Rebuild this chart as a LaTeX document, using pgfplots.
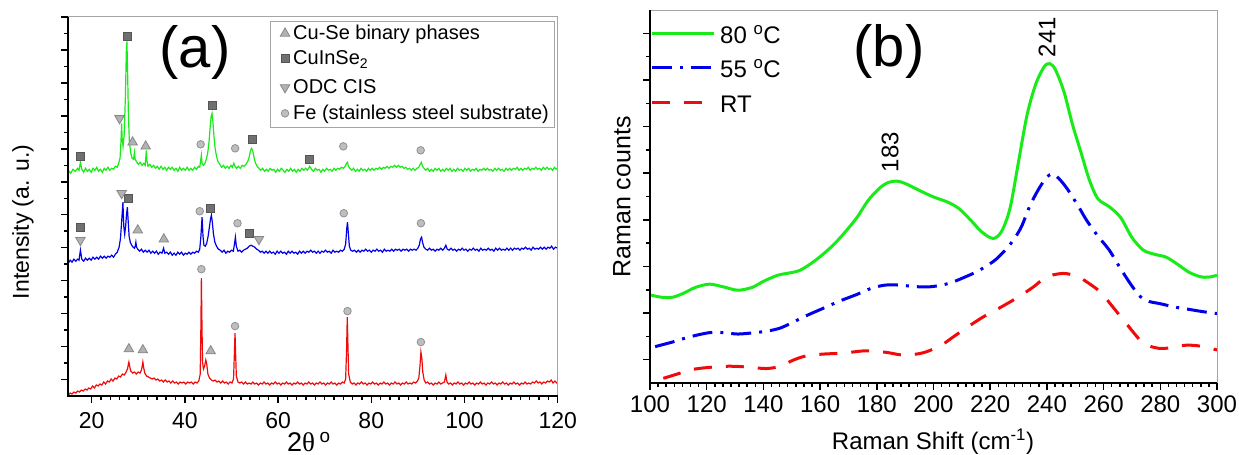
\documentclass[border=0pt]{standalone}
\usepackage{fontspec}
\setmainfont{Liberation Sans}
\newfontfamily\greekserif{Liberation Serif}
\usepackage{pgfplots}
\pgfplotsset{compat=1.18}
\definecolor{cgreen}{RGB}{25,235,25}
\definecolor{cblue}{RGB}{0,0,235}
\definecolor{cred}{RGB}{240,10,10}
\definecolor{framegray}{RGB}{165,165,165}
\definecolor{trifill}{RGB}{178,178,178}
\definecolor{triedge}{RGB}{135,135,135}
\definecolor{sqfill}{RGB}{112,112,112}
\definecolor{sqedge}{RGB}{85,85,85}
\definecolor{cifill}{RGB}{190,190,190}
\definecolor{ciedge}{RGB}{145,145,145}
\pgfplotsset{
  myframe/.style={
    axis line style={draw=none},
    tick align=outside,
    xtick pos=left, ytick pos=left,
    major tick length=7bp, minor tick length=4bp,
    every tick/.append style={black, line width=1.5bp},
    /pgf/number format/assume math mode=true,
    after end axis/.code={
      \draw[line width=1bp, framegray] (rel axis cs:0,1) -- (rel axis cs:1,1) -- (rel axis cs:1,0);
      \draw[line width=2bp, black] (rel axis cs:0,1) -- (rel axis cs:0,0) -- (rel axis cs:1,0);
    },
  },
  tri/.style={only marks, mark=triangle*, mark size=5.5bp, mark options={fill=trifill, draw=triedge, line width=0.8bp}},
  sq/.style={only marks, mark=square*, mark size=4bp, mark options={fill=sqfill, draw=sqedge, line width=0.8bp}},
  dtri/.style={only marks, mark=triangle*, mark size=5.5bp, mark options={rotate=180, fill=trifill, draw=triedge, line width=0.8bp}},
  circ/.style={only marks, mark=*, mark size=3.8bp, mark options={fill=cifill, draw=ciedge, line width=0.8bp}},
}
\begin{document}
\begin{tikzpicture}
\useasboundingbox (0,0) rectangle (1239bp,455bp);
% ---------------- panel (a)
\begin{axis}[myframe,
  at={(68.3bp,59bp)}, anchor=south west,
  scale only axis, width=489.4bp, height=379bp,
  xmin=15, xmax=120, ymin=0, ymax=379.5,
  xtick={20,40,60,80,100,120}, minor x tick num=9,
  ytick={16.5,49.5,82.5,115.5,148.5,181.5,214.5,247.5,280.5,313.5,346.5,379.5},
  yticklabels={}, minor y tick num=1,
  tick label style={font=\fontsize{23bp}{27bp}\selectfont},
  x tick label style={yshift=-6bp},
]
\addplot[cgreen, line width=1.2bp] coordinates {
(15,226)(15.5,223)(16,227)(16.5,225)(17,228)(17.3,226)(17.6,234)(17.9,227)(18.3,224)(18.7,228)(19.1,225)(19.5,227)(19.9,224)(20.3,228)(20.7,226)(21.1,229)(21.5,225)(21.9,227)(22.3,224)(22.7,228)(23.1,226)(23.5,229)(23.9,226)(24.3,228)(24.7,227)(25.1,230)(25.5,229)(25.8,233)(26.1,238)(26.3,255)(26.44,273)(26.55,258)(26.75,250)(27.0,262)(27.25,300)(27.45,345)(27.58,355)(27.72,325)(27.9,280)(28.1,255)(28.4,243)(28.7,238)(29.0,237)(29.2,244)(29.35,237)(29.6,235)(30.0,232)(30.4,234)(30.8,231)(31.2,233)(31.5,231)(31.65,240)(31.74,246)(31.85,236)(32.1,230)(32.5,232)(32.9,229)(33.3,231)(33.7,228)(34.1,230)(34.5,227)(34.9,230)(35.3,227)(35.7,229)(36.1,226)(36.5,229)(36.9,227)(37.3,229)(37.7,226)(38.1,228)(38.5,225)(38.9,229)(39.3,226)(39.7,228)(40.1,226)(40.5,229)(40.9,226)(41.3,228)(41.7,226)(42.1,229)(42.5,227)(42.9,230)(43.2,229)(43.4,236)(43.55,241)(43.7,233)(44.0,231)(44.3,233)(44.6,237)(44.9,243)(45.2,255)(45.45,270)(45.65,280)(45.83,283)(46.0,276)(46.25,260)(46.5,248)(46.8,240)(47.1,235)(47.5,232)(47.9,229)(48.3,231)(48.7,228)(49.1,230)(49.5,228)(49.9,231)(50.2,229)(50.5,233)(50.8,230)(51.1,228)(51.5,230)(51.9,228)(52.3,231)(52.7,230)(53.1,232)(53.5,235)(53.8,239)(54.05,245)(54.3,248)(54.55,246)(54.8,240)(55.1,234)(55.5,230)(55.9,228)(56.3,226)(56.7,228)(57.1,225)(57.5,227)(57.9,225)(58.3,228)(58.7,226)(59.1,227)(59.5,224)(59.9,227)(60.3,225)(60.7,228)(61.1,226)(61.5,224)(61.9,227)(62.3,225)(62.7,228)(63.1,225)(63.5,227)(63.9,224)(64.3,227)(64.7,225)(65.1,228)(65.5,226)(65.9,228)(66.3,226)(66.8,230)(67.2,227)(67.6,225)(68.0,228)(68.4,226)(68.8,227)(69.2,224)(69.6,227)(70.0,225)(70.4,228)(70.8,226)(71.2,227)(71.6,225)(72.0,228)(72.4,226)(72.8,228)(73.2,227)(73.6,229)(74.0,228)(74.4,230)(74.7,233)(74.9,234)(75.1,230)(75.4,228)(75.8,226)(76.2,228)(76.6,225)(77.0,227)(77.4,225)(77.8,228)(78.2,226)(78.6,227)(79.0,225)(79.4,228)(79.8,226)(80.2,228)(80.6,226)(81.0,228)(81.4,227)(81.8,229)(82.2,227)(82.6,229)(83.0,228)(83.4,230)(83.8,228)(84.2,230)(84.6,229)(85.0,231)(85.4,229)(85.8,231)(86.2,229)(86.6,230)(87.0,228)(87.4,229)(87.8,227)(88.2,228)(88.6,226)(89.0,228)(89.4,226)(89.8,228)(90.2,229)(90.5,232)(90.75,234)(91.0,230)(91.3,228)(91.7,226)(92.1,228)(92.5,225)(92.9,227)(93.3,225)(93.7,228)(94.1,226)(94.5,228)(94.9,225)(95.3,227)(95.7,225)(96.1,228)(96.5,226)(96.9,228)(97.3,225)(97.7,227)(98.1,225)(98.5,228)(98.9,226)(99.3,227)(99.7,225)(100.1,228)(100.5,226)(100.9,228)(101.3,225)(101.7,227)(102.1,226)(102.5,228)(102.9,225)(103.3,227)(103.7,226)(104.1,228)(104.5,226)(104.9,228)(105.3,226)(105.7,227)(106.1,225)(106.5,228)(106.9,226)(107.3,228)(107.7,226)(108.1,227)(108.5,225)(108.9,228)(109.3,226)(109.7,228)(110.1,226)(110.5,228)(110.9,227)(111.3,229)(111.7,226)(112.1,228)(112.5,226)(112.9,228)(113.3,227)(113.7,229)(114.1,226)(114.5,228)(114.9,227)(115.3,229)(115.7,227)(116.1,228)(116.5,226)(116.9,229)(117.3,227)(117.7,229)(118.1,227)(118.5,228)(118.9,226)(119.3,229)(119.7,227)(120,228)
};
\addplot[cblue, line width=1.2bp] coordinates {
(15,133)(15.4,136)(15.8,134)(16.2,137)(16.6,135)(17.0,137)(17.3,136)(17.6,146)(17.9,137)(18.3,135)(18.7,138)(19.1,136)(19.5,138)(19.9,136)(20.3,139)(20.7,137)(21.1,139)(21.5,137)(21.9,140)(22.3,138)(22.7,140)(23.1,138)(23.5,140)(23.9,139)(24.3,141)(24.7,139)(25.1,142)(25.5,144)(25.9,149)(26.2,158)(26.45,175)(26.72,194)(26.9,170)(27.1,162)(27.3,170)(27.5,182)(27.67,189)(27.85,175)(28.05,160)(28.3,154)(28.6,151)(28.9,149)(29.2,148)(29.4,151)(29.5,154)(29.65,149)(29.9,147)(30.3,145)(30.7,147)(31.1,144)(31.5,146)(31.9,144)(32.3,146)(32.7,143)(33.1,145)(33.5,143)(33.9,145)(34.3,142)(34.7,144)(35.1,143)(35.45,148)(35.7,143)(36.1,144)(36.5,142)(36.9,144)(37.3,141)(37.7,143)(38.1,141)(38.5,144)(38.9,142)(39.3,144)(39.7,141)(40.1,143)(40.5,142)(40.9,144)(41.3,142)(41.7,144)(42.1,143)(42.5,145)(42.9,144)(43.2,147)(43.45,160)(43.7,179)(43.9,160)(44.1,151)(44.4,150)(44.7,153)(45.0,160)(45.3,170)(45.5,177)(45.7,181)(45.9,174)(46.15,162)(46.45,154)(46.8,150)(47.2,147)(47.6,146)(48.0,144)(48.4,146)(48.8,143)(49.2,145)(49.6,144)(50.0,146)(50.4,145)(50.65,152)(50.85,159)(51.05,150)(51.4,145)(51.8,146)(52.2,144)(52.6,146)(53.0,147)(53.4,148)(53.8,150)(54.2,151)(54.6,150)(55.0,149)(55.4,147)(55.8,146)(56.2,144)(56.6,145)(57.0,143)(57.4,145)(57.8,143)(58.2,145)(58.6,143)(59.0,144)(59.4,142)(59.8,145)(60.2,143)(60.6,145)(61.0,143)(61.4,144)(61.8,142)(62.2,145)(62.6,143)(63.0,145)(63.4,143)(63.8,144)(64.2,142)(64.6,145)(65.0,143)(65.4,145)(65.8,143)(66.2,145)(66.6,144)(67.0,146)(67.4,144)(67.8,145)(68.2,143)(68.6,145)(69.0,143)(69.4,145)(69.8,144)(70.2,146)(70.6,144)(71.0,145)(71.4,143)(71.8,146)(72.2,144)(72.6,145)(73.0,144)(73.4,146)(73.8,145)(74.2,147)(74.5,152)(74.75,168)(74.9,174)(75.05,165)(75.3,150)(75.6,146)(76.0,145)(76.4,146)(76.8,144)(77.2,146)(77.6,144)(78.0,146)(78.4,145)(78.8,147)(79.2,145)(79.6,146)(80.0,144)(80.4,146)(80.8,145)(81.2,147)(81.6,145)(82.0,146)(82.4,144)(82.8,147)(83.2,145)(83.6,146)(84.0,145)(84.4,147)(84.8,145)(85.2,147)(85.6,146)(86.0,147)(86.4,145)(86.8,147)(87.2,146)(87.6,147)(88.0,145)(88.4,147)(88.8,146)(89.2,147)(89.6,146)(90.0,148)(90.3,151)(90.55,157)(90.8,159)(91.0,154)(91.3,149)(91.7,147)(92.1,146)(92.5,148)(92.9,146)(93.3,147)(93.7,145)(94.1,147)(94.5,146)(94.9,148)(95.3,146)(95.7,148)(96.0,151)(96.3,147)(96.7,146)(97.1,148)(97.5,146)(97.9,147)(98.3,145)(98.7,147)(99.1,146)(99.5,148)(99.9,146)(100.3,147)(100.7,145)(101.1,147)(101.5,146)(101.9,148)(102.3,146)(102.7,147)(103.1,145)(103.5,148)(103.9,146)(104.3,147)(104.7,146)(105.1,148)(105.5,146)(105.9,147)(106.3,145)(106.7,148)(107.1,146)(107.5,148)(107.9,146)(108.3,147)(108.7,146)(109.1,148)(109.5,146)(109.9,148)(110.3,146)(110.7,148)(111.1,147)(111.5,148)(111.9,146)(112.3,148)(112.7,147)(113.1,149)(113.5,147)(113.9,148)(114.3,146)(114.7,149)(115.1,147)(115.5,148)(115.9,147)(116.3,149)(116.7,147)(117.1,149)(117.5,147)(117.9,149)(118.3,148)(118.7,150)(119.1,147)(119.5,149)(120,148)
};
\addplot[cred, line width=1.2bp] coordinates {
(15,1)(15.4,3)(15.8,2)(16.2,4)(16.6,3)(17.0,5)(17.4,4)(17.8,6)(18.2,5)(18.6,7)(19.0,6)(19.4,8)(19.8,7)(20.2,10)(20.6,8)(21.0,11)(21.4,10)(21.8,12)(22.2,11)(22.6,14)(23.0,12)(23.4,15)(23.8,14)(24.2,17)(24.6,15)(25.0,18)(25.4,17)(25.8,20)(26.2,19)(26.6,22)(27.0,21)(27.4,24)(27.7,27)(27.9,32)(28.0,34)(28.15,30)(28.4,25)(28.8,23)(29.2,24)(29.6,22)(30.0,24)(30.4,23)(30.7,26)(30.9,31)(31.0,34)(31.15,29)(31.4,23)(31.8,20)(32.2,19)(32.6,18)(33.0,17)(33.4,18)(33.8,16)(34.2,17)(34.6,15)(35.0,16)(35.4,14)(35.8,16)(36.2,14)(36.6,15)(37.0,13)(37.4,15)(37.8,13)(38.2,14)(38.6,12)(39.0,14)(39.4,13)(39.8,14)(40.2,12)(40.6,14)(41.0,13)(41.4,14)(41.8,12)(42.2,14)(42.6,13)(43.0,15)(43.3,22)(43.45,70)(43.55,118)(43.68,70)(43.8,34)(44.0,27)(44.25,30)(44.5,36)(44.7,32)(44.95,22)(45.3,18)(45.7,16)(46.1,15)(46.5,16)(46.9,14)(47.3,15)(47.7,13)(48.1,15)(48.5,13)(48.9,14)(49.3,12)(49.7,14)(50.1,13)(50.45,17)(50.65,45)(50.77,63)(50.9,42)(51.05,20)(51.4,14)(51.8,13)(52.2,14)(52.6,12)(53.0,14)(53.4,12)(53.8,13)(54.2,12)(54.6,14)(55.0,12)(55.4,13)(55.8,11)(56.2,13)(56.6,12)(57.0,14)(57.4,12)(57.8,13)(58.2,11)(58.6,13)(59.0,12)(59.4,14)(59.8,12)(60.2,13)(60.6,11)(61.0,13)(61.4,12)(61.8,14)(62.2,12)(62.6,13)(63.0,11)(63.4,13)(63.8,12)(64.2,14)(64.6,12)(65.0,13)(65.4,11)(65.8,13)(66.2,12)(66.6,14)(67.0,12)(67.4,13)(67.8,11)(68.2,13)(68.6,12)(69.0,14)(69.4,12)(69.8,13)(70.2,11)(70.6,13)(71.0,12)(71.4,14)(71.8,12)(72.2,13)(72.6,11)(73.0,13)(73.4,12)(73.8,14)(74.2,13)(74.5,17)(74.7,45)(74.85,79)(75.0,50)(75.15,22)(75.5,14)(75.9,12)(76.3,13)(76.7,11)(77.1,13)(77.5,12)(77.9,14)(78.3,12)(78.7,13)(79.1,11)(79.5,13)(79.9,12)(80.3,14)(80.7,12)(81.1,13)(81.5,11)(81.9,13)(82.3,12)(82.7,14)(83.1,12)(83.5,13)(83.9,11)(84.3,13)(84.7,12)(85.1,14)(85.5,12)(85.9,13)(86.3,11)(86.7,13)(87.1,12)(87.5,14)(87.9,12)(88.3,13)(88.7,12)(89.1,14)(89.5,13)(89.9,15)(90.2,18)(90.45,30)(90.65,44)(90.85,38)(91.05,24)(91.35,16)(91.7,13)(92.1,14)(92.5,12)(92.9,13)(93.3,11)(93.7,13)(94.1,12)(94.5,14)(94.9,12)(95.3,13)(95.7,14)(96.0,21)(96.25,14)(96.6,12)(97.0,13)(97.4,11)(97.8,13)(98.2,12)(98.6,14)(99.0,12)(99.4,13)(99.8,11)(100.2,13)(100.6,12)(101.0,14)(101.4,12)(101.8,13)(102.2,11)(102.6,13)(103.0,12)(103.4,14)(103.8,12)(104.2,13)(104.6,11)(105.0,13)(105.4,12)(105.8,14)(106.2,12)(106.6,13)(107.0,11)(107.4,13)(107.8,12)(108.2,14)(108.6,12)(109.0,13)(109.4,11)(109.8,13)(110.2,12)(110.6,14)(111.0,12)(111.4,13)(111.8,11)(112.2,13)(112.6,12)(113.0,14)(113.4,12)(113.8,13)(114.2,12)(114.6,14)(115.0,13)(115.4,15)(115.8,13)(116.2,14)(116.6,12)(117.0,14)(117.4,13)(117.8,15)(118.2,14)(118.6,16)(119.0,13)(119.4,15)(119.8,13)(120,14)
};
% phase markers
\addplot[tri] coordinates {(28.8,254)(31.6,250)(29.9,166)(35.5,157)(28.0,47)(31.0,46)(45.55,45)};
\addplot[sq] coordinates {(17.6,240)(27.58,360)(45.83,291)(54.5,257)(66.8,237)(17.6,169)(27.88,198)(45.55,188)(53.8,163)};
\addplot[dtri] coordinates {(26.0,278)(17.6,156)(26.44,203)(55.9,157)};
\addplot[circ] coordinates {(43.4,252)(50.8,248)(74.0,250)(90.6,246)(43.2,185)(51.3,173)(74.1,183)(90.65,173)(43.55,127)(50.77,70)(74.9,85)(90.65,54)};
% legend key symbols
\addplot[tri] coordinates {(61.5,363)};
\addplot[sq] coordinates {(61.5,338)};
\addplot[dtri] coordinates {(61.5,309)};
\addplot[circ] coordinates {(61.5,283)};
\end{axis}
% legend box and texts of (a)
\draw[framegray, line width=1bp] (270bp,327bp) rectangle (554bp,433bp);
\begin{scope}[every node/.style={anchor=base west, inner sep=0pt, font=\fontsize{20bp}{24bp}\selectfont}]
\node at (293bp,415bp) {Cu-Se binary phases};
\node at (293bp,390bp) {CuInSe\textsubscript{2}};
\node at (293bp,361bp) {ODC CIS};
\node at (293bp,335bp) {Fe (stainless steel substrate)};
\end{scope}
% ---------------- panel (b)
\begin{axis}[myframe,
  at={(650bp,72bp)}, anchor=south west,
  scale only axis, width=567bp, height=373bp,
  xmin=100, xmax=300, ymin=0, ymax=8,
  xtick={100,120,140,160,180,200,220,240,260,280,300}, minor x tick num=6,
  ytick={0.5,1.5,2.5,3.5,4.5,5.5,6.5,7.5}, yticklabels={}, minor y tick num=1,
  tick label style={font=\fontsize{24bp}{28bp}\selectfont},
  x tick label style={yshift=-2bp},
  legend cell align=left,
  legend image code/.code={\draw[#1] (0bp,0bp) -- (62bp,0bp);},
  legend style={at={(0.0,0.9846)}, anchor=north west, draw=none, fill=none,
    font=\fontsize{24bp}{28bp}\selectfont, inner sep=0bp, row sep=0bp,
    nodes={inner sep=2bp, text height=25.3bp, text depth=5.2bp},
    /tikz/every odd column/.append style={column sep=3bp}},
]
\addplot[cgreen, line width=3bp, smooth] coordinates {
(100,1.89)(104,1.84)(108,1.84)(112,1.93)(116,2.05)(121,2.12)(126,2.06)(131,1.99)(136,2.05)(140,2.18)(145,2.31)(150,2.37)(153,2.42)(157,2.57)(161,2.76)(165,2.98)(169,3.25)(173,3.55)(177,3.92)(181,4.18)(184,4.30)(187,4.33)(190,4.28)(195,4.13)(200,3.99)(205,3.88)(209,3.74)(213,3.50)(217,3.24)(221,3.10)(224,3.25)(227,3.75)(230,4.75)(233,5.75)(236,6.40)(239,6.78)(241,6.85)(243,6.72)(246,6.25)(249,5.55)(252,4.95)(255,4.35)(258,3.95)(262,3.78)(266,3.55)(270,3.12)(274,2.85)(278,2.76)(282,2.70)(286,2.55)(290,2.38)(294,2.28)(297,2.27)(300,2.31)
};
\addlegendentry{80 \textsuperscript{o}C}
\addplot[cblue, line width=3bp, smooth, dash pattern=on 20bp off 8bp on 3bp off 8bp] coordinates {
(101.8,0.78)(108,0.88)(114,0.99)(121,1.08)(126,1.08)(131,1.05)(137,1.08)(142,1.12)(146,1.18)(150,1.29)(155,1.44)(161,1.60)(167,1.76)(173,1.90)(178,2.03)(183,2.10)(188,2.10)(193,2.07)(198,2.06)(203,2.10)(207,2.17)(211,2.27)(215,2.38)(219,2.52)(222,2.65)(225,2.83)(228,3.05)(231,3.35)(234,3.80)(237,4.15)(240,4.42)(242,4.48)(244,4.40)(247,4.18)(251,3.80)(254,3.49)(258,3.15)(262,2.85)(266,2.45)(270,2.08)(273,1.85)(276,1.75)(280,1.70)(285,1.63)(290,1.58)(295,1.53)(300,1.49)
};
\addlegendentry{55 \textsuperscript{o}C}
\addplot[cred, line width=3bp, smooth, dash pattern=on 18bp off 14bp] coordinates {
(104.7,0.10)(110,0.20)(114,0.28)(120,0.33)(128,0.36)(135,0.34)(141,0.31)(146,0.36)(150.5,0.49)(155,0.58)(161,0.62)(168,0.64)(176,0.69)(183,0.66)(189,0.60)(194,0.62)(198,0.68)(203,0.82)(207,0.99)(212,1.2)(217.6,1.42)(223,1.6)(229,1.81)(235,2.05)(240,2.28)(245.8,2.35)(250,2.3)(253,2.21)(258.7,1.96)(263,1.65)(267,1.35)(271,1.05)(274,0.85)(278,0.76)(281,0.74)(285,0.77)(289,0.81)(293,0.80)(297,0.75)(300,0.71)
};
\addlegendentry{RT}
\end{axis}
% ---------------- texts
\node[font=\fontsize{58bp}{64bp}\selectfont] at (195bp,403bp) {(a)};
\node[font=\fontsize{58bp}{64bp}\selectfont] at (889bp,404bp) {(b)};
\node[rotate=90, font=\fontsize{23bp}{27bp}\selectfont] at (23bp,233bp) {Intensity (a. u.)};
\node[anchor=base west, font=\fontsize{27bp}{31bp}\selectfont, inner sep=0pt] at (287bp,4bp) {2{\greekserif θ}\,\textsuperscript{o}};
\node[rotate=90, font=\fontsize{25bp}{29bp}\selectfont] at (622bp,258bp) {Raman counts};
\node[anchor=base, font=\fontsize{24bp}{28bp}\selectfont, inner sep=0pt] at (933bp,6bp) {Raman Shift (cm\textsuperscript{-1})};
\node[rotate=90, font=\fontsize{24bp}{28bp}\selectfont] at (890bp,303bp) {183};
\node[rotate=90, font=\fontsize{24bp}{28bp}\selectfont] at (1047bp,418bp) {241};
\end{tikzpicture}
\end{document}
